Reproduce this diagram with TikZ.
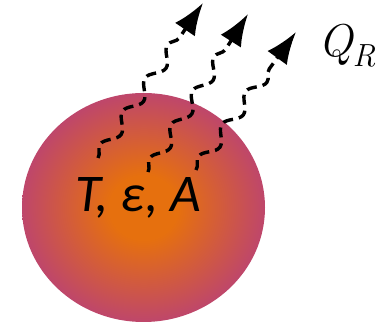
\documentclass[tikz,border=0pt]{standalone}
\usepackage{fontspec}
\usepackage{xcolor}
\usepackage{tikz}
\usetikzlibrary{positioning, arrows.meta, shapes.geometric, decorations.pathmorphing}

\newfontfamily\bodyfont{Carlito}
\definecolor{hotcore}{RGB}{230,112,14}
\definecolor{hotrim}{RGB}{188,68,112}
\pgfdeclareradialshading{glow}{\pgfpoint{0bp}{0bp}}{%
  color(0bp)=(hotcore); color(7bp)=(hotcore); color(26bp)=(hotrim); color(50bp)=(hotrim)}

\begin{document}
\begin{tikzpicture}[
    x=1pt, y=1pt,
    body/.style={ellipse, inner sep=0pt, minimum width=243pt, minimum height=229pt, shading=glow},
    props/.style={font=\bodyfont\itshape\fontsize{53}{60}\selectfont, inner sep=0pt},
    heat/.style={font=\itshape\fontsize{46}{56}\selectfont, inner sep=0pt},
    ray/.style={line width=3.4pt, dash pattern=on 10pt off 6pt, -{Latex[length=32pt, width=24pt]},
        decorate, decoration={snake, amplitude=6pt, segment length=40pt, post length=28pt}}
]
\useasboundingbox (0,0) rectangle (378,323);
\node[body] (sphere) at (143.5,115.5) {};
\node[props, anchor=base] (tea) at (138,111) {T, ε, A};
\node[heat, anchor=base west] (qr) at (318,266) {Q\raisebox{-10pt}{\fontsize{32}{38}\selectfont R}};

% radiation leaving the surface
\coordinate (s1) at (98,165);
\coordinate (s2) at (148,151);
\coordinate (s3) at (196,153);
\coordinate (e1) at (203,320);
\coordinate (e2) at (248,309);
\coordinate (e3) at (296,291);
\draw[ray] (s1) -- (e1);
\draw[ray] (s2) -- (e2);
\draw[ray] (s3) -- (e3);
\end{tikzpicture}
\end{document}
